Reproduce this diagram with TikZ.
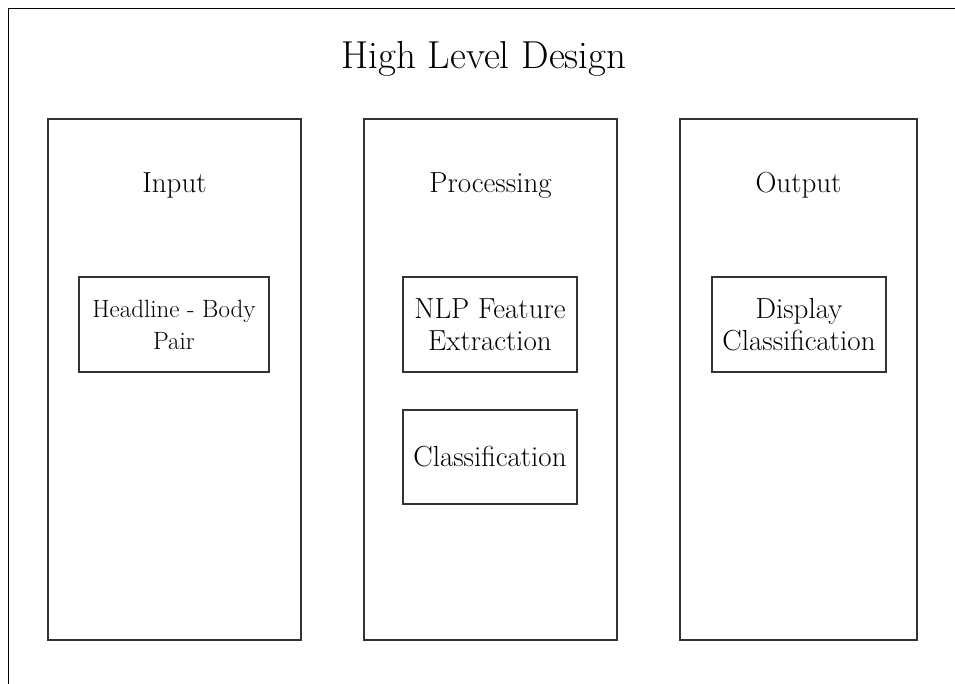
\documentclass[tikz,border=0pt]{standalone}
\begin{document}
\begin{tikzpicture}[x=1pt,y=-1pt,
  frame/.style={draw=black!80, line width=1.4pt},
  column/.style={frame, rectangle, inner sep=0pt},
  stagebox/.style={frame, rectangle, inner sep=0pt, align=center},
  heading/.style={anchor=base, font=\fontsize{29}{32}\selectfont},
  boxtext/.style={font=\fontsize{29}{32}\selectfont}]
\useasboundingbox (0,0) rectangle (955,684);
% outer page frame (runs past the right and bottom edges)
\draw[draw=black, line width=1.8pt] (8.5,720) -- (8.5,8.5) -- (990,8.5);
% title
\node[anchor=base, font=\fontsize{39}{44}\selectfont] (title) at (484,69) {High Level Design};
% three columns
\node[column, minimum width=253, minimum height=521] (incol) at (174.5,379.5) {};
\node[column, minimum width=253, minimum height=521] (proccol) at (490.5,379.5) {};
\node[column, minimum width=237, minimum height=521] (outcol) at (798.5,379.5) {};
% column headings
\node[heading] (inhead) at (174.5,193) {Input};
\node[heading] (prochead) at (490.5,193) {Processing};
\node[heading] (outhead) at (798.5,193) {Output};
% stage boxes
\node[stagebox, minimum width=190, minimum height=95,
      font=\fontsize{25}{32}\selectfont] (pair) at (174,324.5) {Headline - Body\\Pair};
\node[stagebox, minimum width=174, minimum height=95, boxtext] (nlp) at (490,324.5) {NLP Feature\\Extraction};
\node[stagebox, minimum width=174, minimum height=94, boxtext] (cls) at (490,457) {Classification};
\node[stagebox, minimum width=174, minimum height=95, boxtext] (disp) at (799,324.5) {Display\\Classification};
\end{tikzpicture}
\end{document}
